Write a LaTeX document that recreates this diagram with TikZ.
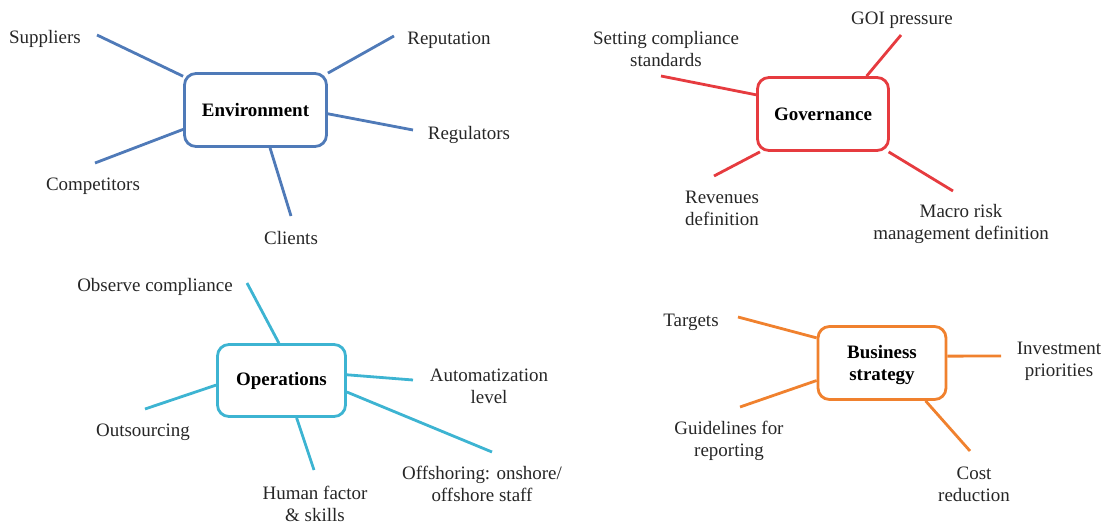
\documentclass[tikz,border=0pt]{standalone}
\usepackage{fontspec}
\setmainfont{Liberation Serif}
\usepackage{tikz}
\usetikzlibrary{positioning, calc}
\usepackage{xcolor}
\definecolor{envblue}{HTML}{4F7AB8}
\definecolor{govred}{HTML}{E63B3F}
\definecolor{opscyan}{HTML}{3DB4D2}
\definecolor{busorange}{HTML}{F0812E}

\begin{document}
\begin{tikzpicture}[x=0.02cm, y=-0.02cm,
		font=\fontsize{10.8}{12.6}\selectfont,
		hub/.style={draw=#1, line width=1.6pt, rounded corners=6.5pt, fill=white, text=black, font=\fontsize{10.8}{12.6}\selectfont\bfseries, align=center, inner sep=0pt},
		leaf/.style={align=center, text=black!85, inner sep=0pt, yshift=-1.2pt},
		spoke/.style={-, line width=1.6pt}]
					\useasboundingbox (0,0) rectangle (1111,527);

					% environment
					\node[hub=envblue, minimum width=2.84cm, minimum height=1.46cm] at (255.5, 110) (env) {\raisebox{-3pt}{Environment}};
					\node[leaf] at (45, 37) (sup) {Suppliers};
					\node[leaf] at (449, 38) (rep) {Reputation};
					\node[leaf] at (469, 133) (reg) {Regulators};
					\node[leaf] at (93, 184) (comp) {Competitors};
					\node[leaf] at (291, 236) (cli) {Clients};
					\coordinate (sup-end) at (97, 35);
					\coordinate (rep-end) at (394, 36);
					\coordinate (reg-end) at (413, 130);
					\coordinate (comp-end) at (95, 163);
					\coordinate (cli-end) at (291, 216);

					\draw[envblue]
					(env.155) edge[spoke] (sup-end)
					(env.27) edge[spoke] (rep-end)
					(env.-3) edge[spoke] (reg-end)
					(env.195) edge[spoke] (comp-end)
					(env.-69) edge[spoke] (cli-end);

					% governance
					\node[hub=govred, minimum width=2.62cm, minimum height=1.46cm] at (823, 114) (gov) {\raisebox{-4pt}{Governance}};
					\node[leaf] at (666, 47) (set) {Setting compliance\\standards};
					\node[leaf] at (902, 18) (goi) {GOI pressure};
					\node[leaf] at (722, 206) (rev) {Revenues\\definition};
					\node[leaf] at (961, 222) (mac) {Macro risk\\management definition};
					\coordinate (set-end) at (661, 76);
					\coordinate (goi-end) at (901, 35);
					\coordinate (rev-end) at (714, 176);
					\coordinate (mac-end) at (953, 191);

					\draw[govred]
					(gov.164) edge[spoke] (set-end)
					(gov.41) edge[spoke] (goi-end)
					(gov.211) edge[spoke] (rev-end)
					(gov.-30) edge[spoke] (mac-end);

					% operations
					\node[hub=opscyan, minimum width=2.56cm, minimum height=1.44cm] at (281.5, 380.5) (ops) {\raisebox{-3pt}{Operations}};
					\node[leaf] at (155, 285) (obs) {Observe compliance};
					\node[leaf] at (489, 384) (aut) {Automatization\\level};
					\node[leaf] at (143, 430) (outs) {Outsourcing};
					\node[leaf] at (315, 502) (hum) {Human factor\\\& skills};
					\node[leaf] at (482, 482) (off) {Offshoring: onshore/\\offshore staff};
					\coordinate (obs-end) at (247, 283);
					\coordinate (aut-end) at (413, 380);
					\coordinate (outs-end) at (145, 409);
					\coordinate (hum-end) at (314, 470);
					\coordinate (off-end) at (492, 452);

					\draw[opscyan]
					(ops.94) edge[spoke] (obs-end)
					(ops.5) edge[spoke] (aut-end)
					(ops.184) edge[spoke] (outs-end)
					(ops.-68) edge[spoke] (hum-end)
					(ops.-10) edge[spoke] (off-end);

					% business strategy
					\node[hub=busorange, minimum width=2.56cm, minimum height=1.46cm, text depth=0pt] at (882, 363) (bus) {Business\\strategy};
					\node[leaf] at (691, 320) (tar) {Targets};
					\node[leaf] at (1059, 359) (inv) {Investment\\priorities};
					\node[leaf] at (729, 439) (gui) {Guidelines for\\reporting};
					\node[leaf] at (974, 482) (cost) {Cost\\reduction};
					\coordinate (tar-end) at (738, 317);
					\coordinate (inv-end) at (1001, 356);
					\coordinate (gui-end) at (740, 407);
					\coordinate (cost-end) at (970, 451);

					\draw[busorange]
					(bus.159) edge[spoke] (tar-end)
					(bus.6) edge[spoke] (inv-end)
					(bus.195) edge[spoke] (gui-end)
					(bus.-41.5) edge[spoke] (cost-end);
				\end{tikzpicture}
\end{document}
